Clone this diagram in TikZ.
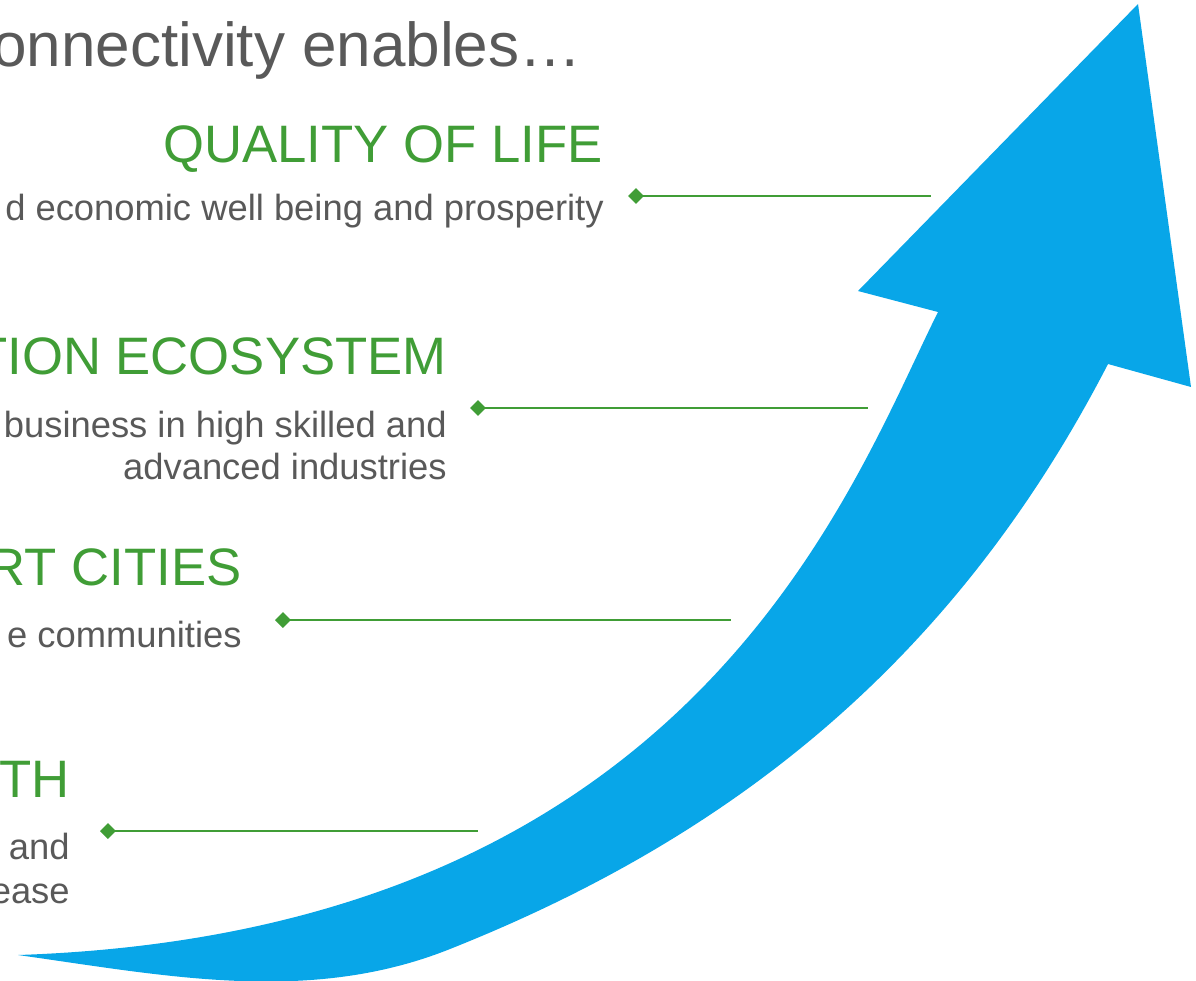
\documentclass[tikz,border=0pt]{standalone}
\usepackage{fontspec}
\setmainfont{Liberation Sans}
\usetikzlibrary{arrows.meta}

\definecolor{arrowblue}{RGB}{8,166,232}
\definecolor{leafgreen}{RGB}{64,157,54}
\definecolor{textgray}{RGB}{89,89,89}

\begin{document}
\begin{tikzpicture}[x=0.02cm,y=-0.02cm,
    headline/.style={anchor=base east,inner sep=0pt,text=textgray,font=\fontsize{35.3}{40}\selectfont},
    level/.style={anchor=base east,inner sep=0pt,text=leafgreen,font=\fontsize{30}{34}\selectfont},
    detail/.style={anchor=base east,inner sep=0pt,text=textgray,font=\fontsize{20.7}{24}\selectfont},
    leader/.style={leafgreen,line width=1.5pt,{Diamond[length=9pt,width=9pt]}-}]
		\useasboundingbox (0,0) rectangle (1196,980);

		% growth arrow
		\fill[arrowblue] (18,955) .. controls (697,932) and (851,486) .. (938,312)
		  -- (858,291) -- (1138,4) -- (1191,387) -- (1108,364)
		  .. controls (949,672) and (719,842) .. (450,949)
		  .. controls (310,1005) and (167,976) .. cycle;

		\node[headline] (title) at (582,67) {onnectivity enables…};

		\node[level] (life) at (603,162) {QUALITY OF LIFE};
		\node[detail] (lifeText) at (604,220) {d economic well being and prosperity};

		\node[level] (innovation) at (447,374) {TION ECOSYSTEM};
		\node[detail] (innovationText) at (447,437) {business in high skilled and};
		\node[detail] (innovationText2) at (447,479) {advanced industries};

		\node[level] (cities) at (242,585) {RT CITIES};
		\node[detail] (citiesText) at (242,647) {e communities};

		\node[level] (growth) at (70,797) {TH};
		\node[detail] (growthText) at (70,859) {and};
		\node[detail] (growthText2) at (70,903) {ease};

		% leaders
		\coordinate (lifeDot) at (628,196);
		\coordinate (lifeEnd) at (931,196);
		\coordinate (innovationDot) at (470,408);
		\coordinate (innovationEnd) at (868,408);
		\coordinate (citiesDot) at (275,620);
		\coordinate (citiesEnd) at (731,620);
		\coordinate (growthDot) at (100,831);
		\coordinate (growthEnd) at (478,831);
		\draw[leader] (lifeDot) -- (lifeEnd);
		\draw[leader] (innovationDot) -- (innovationEnd);
		\draw[leader] (citiesDot) -- (citiesEnd);
		\draw[leader] (growthDot) -- (growthEnd);
\end{tikzpicture}
\end{document}
